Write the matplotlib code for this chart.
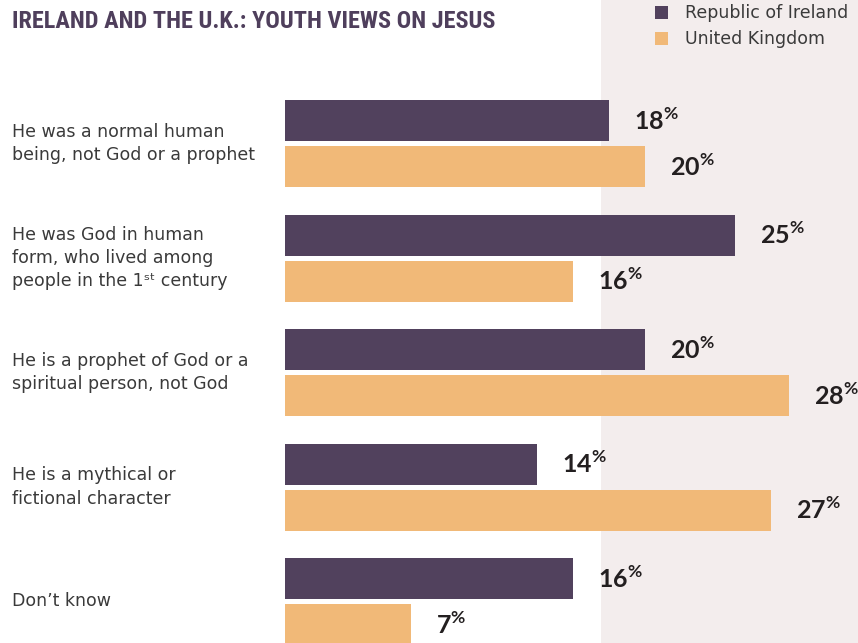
import matplotlib
matplotlib.use("Agg")
import matplotlib.pyplot as plt
from matplotlib import font_manager as fm
from matplotlib.patches import Rectangle
from matplotlib.transforms import blended_transform_factory
import numpy as np

plt.rcParams["mathtext.fontset"] = "custom"
plt.rcParams["mathtext.rm"] = "Lato"
plt.rcParams["mathtext.bf"] = "Lato:bold"

categories = [
    "He was a normal human\nbeing, not God or a prophet",
    "He was God in human\nform, who lived among\npeople in the 1\u02e2\u1d57 century",
    "He is a prophet of God or a\nspiritual person, not God",
    "He is a mythical or\nfictional character",
    "Don\u2019t know",
]
ireland = [18, 25, 20, 14, 16]
uk = [20, 16, 28, 27, 7]
series_names = ["Republic of Ireland", "United Kingdom"]
title = "IRELAND AND THE U.K.: YOUTH VIEWS ON JESUS"

PURPLE = "#51415D"
ORANGE = "#F1B978"
PANEL = "#F3EDED"
TEXT = "#3A3A3A"
VALUE = "#231F20"

# pick a narrow face for the headline if one is installed
installed = {f.name for f in fm.fontManager.ttflist}
condensed_faces = {f.name for f in fm.fontManager.ttflist if f.stretch in ("condensed", "semi-condensed", "extra-condensed")}
title_family = None
for cand in ["Roboto Condensed", "Liberation Sans Narrow", "DejaVu Sans Condensed",
             "Open Sans Condensed", "Noto Sans Condensed"]:
    if cand in installed:
        title_family = cand
        break
title_kw = dict(fontsize=17.5)
if title_family is None:
    if condensed_faces:
        title_family = sorted(condensed_faces)[0]
        title_kw = dict(fontsize=17.5, fontstretch="condensed")
    else:
        title_family = "Roboto"
        title_kw = dict(fontsize=15)

W, H = 858, 643
fig = plt.figure(figsize=(W / 100, H / 100), dpi=100)
fig.patch.set_facecolor("white")

# shaded panel on the right side
fig.patches.append(Rectangle((601 / W, 0), 1 - 601 / W, 1, transform=fig.transFigure,
                             facecolor=PANEL, edgecolor="none", zorder=-10))

ax_left = 285 / W
ax = fig.add_axes([ax_left, 0, 1 - ax_left, 1])
ax.set_facecolor("none")
for s in ax.spines.values():
    s.set_visible(False)
ax.set_xticks([])
ax.set_yticks([])

px_per_unit = 114.5
xmax = (W - 285) / 18.0
ax.set_xlim(0, xmax)
ax.set_ylim((H - 143.5) / px_per_unit, -143.5 / px_per_unit)

y = np.arange(len(categories))
off = 23 / px_per_unit
bh = 41 / px_per_unit
ax.barh(y - off, ireland, height=bh, color=PURPLE, zorder=2)
ax.barh(y + off, uk, height=bh, color=ORANGE, zorder=2)

pad = 25 / 18.0
for ys, vals in ((y - off, ireland), (y + off, uk)):
    for yi, v in zip(ys, vals):
        ax.text(v + pad, yi, f"{v}" + r"$^{\mathbf{\%}}$", va="center", ha="left",
                fontsize=18, fontweight="bold", family="Lato", color=VALUE, zorder=3)

# category labels in the left margin
label_tr = blended_transform_factory(fig.transFigure, ax.transData)
for yi, lab in zip(y, categories):
    ax.text(12 / W, yi, lab, transform=label_tr, ha="left", va="center",
            fontsize=12.5, family="DejaVu Sans", color=TEXT, linespacing=1.37)

fig.text(12 / W, 1 - 10 / H, title, ha="left", va="top", fontweight="bold",
         color="#4F3F5C", family=[title_family, "DejaVu Sans"], **title_kw)

# legend
for i, (name, col) in enumerate(zip(series_names, [PURPLE, ORANGE])):
    top = 6 + 26 * i
    fig.patches.append(Rectangle((655 / W, 1 - (top + 13) / H), 13 / W, 13 / H,
                                 transform=fig.transFigure, facecolor=col,
                                 edgecolor="none", zorder=3))
    fig.text(685 / W, 1 - (top + 6.5) / H, name, ha="left", va="center",
             fontsize=12.5, family="DejaVu Sans", color=TEXT)

fig.savefig("out.png", dpi=100)
